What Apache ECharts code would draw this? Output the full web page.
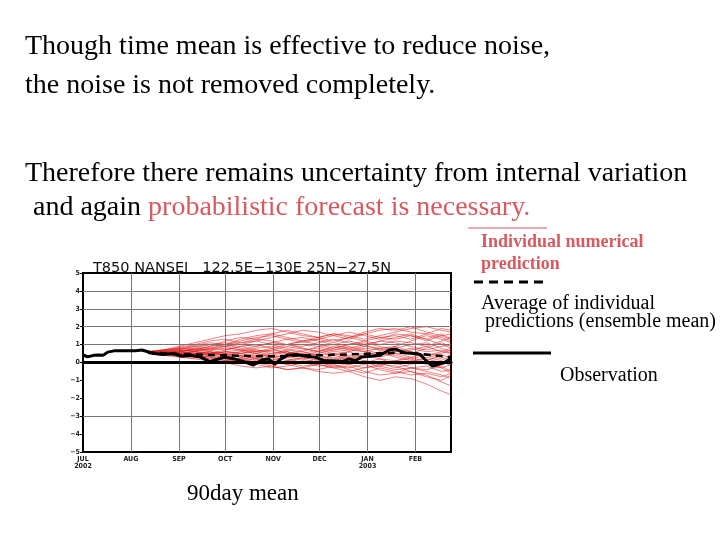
<!DOCTYPE html>
<html><head><meta charset="utf-8">
<script src="https://cdn.jsdelivr.net/npm/echarts@6/dist/echarts.min.js"></script>
<style>html,body{margin:0;padding:0;background:#fff}#c{width:720px;height:540px}</style>
</head><body><div id="c"></div>
<script>
// ---- data ----
const chartTitle = "T850 NANSEI   122.5E\u2212130E 25N\u221227.5N";
const monthStartDays = [0, 31, 62, 92, 123, 153, 184, 215];
const monthLabels = ["JUL\n2002", "AUG", "SEP", "OCT", "NOV", "DEC", "JAN\n2003", "FEB"];
const lastDay = 238;
const yTickLabels = ["\u22125","\u22124","\u22123","\u22122","\u22121","0","1","2","3","4","5"];
const gridYValues = [1, 2, 3, 4, -3];

const memberDays = [42,52,62,72,82,92,102,112,122,132,142,152,162,172,182,192,202,212,222,232,238];
const m1  = [0.6,0.7,0.9,1.1,1.3,1.5,1.6,1.8,1.9,1.7,1.5,1.4,1.6,1.5,1.3,1.5,1.7,1.9,2.0,1.8,1.7];
const m2  = [0.55,0.6,0.7,0.9,1.0,1.1,1.0,1.2,1.4,1.6,1.8,1.7,1.5,1.3,1.6,1.8,1.9,1.7,1.6,1.4,1.2];
const m3  = [0.5,0.4,0.3,0.2,0.1,0.0,-0.2,-0.3,-0.2,-0.4,-0.3,-0.5,-0.6,-0.5,-0.8,-1.0,-0.8,-0.9,-1.2,-1.6,-1.8];
const m4  = [0.6,0.5,0.55,0.6,0.8,0.7,0.9,1.0,0.8,1.0,1.2,1.3,1.1,1.4,1.6,1.4,1.3,1.5,1.3,1.6,1.3];
const m5  = [0.55,0.45,0.35,0.4,0.3,0.2,0.1,0.2,0.0,-0.1,0.1,0.0,-0.2,-0.1,-0.3,-0.2,-0.4,-0.3,-0.5,-0.7,-0.9];
const m6  = [0.6,0.65,0.75,0.8,0.7,0.9,1.1,1.2,1.0,0.8,0.9,1.1,1.3,1.1,0.9,1.2,1.4,1.6,1.3,1.0,0.8];
const m7  = [0.5,0.4,0.45,0.3,0.2,0.3,0.4,0.2,0.1,0.3,0.2,0.0,0.1,0.3,0.1,-0.1,0.0,-0.3,-0.2,-0.5,-0.4];
const m8  = [0.6,0.55,0.5,0.6,0.5,0.6,0.5,0.7,0.6,0.5,0.7,0.8,0.6,0.7,0.9,0.8,0.6,0.7,0.9,0.6,0.5];
const m9  = [0.55,0.6,0.5,0.45,0.6,0.5,0.3,0.4,0.5,0.7,0.6,0.4,0.5,0.3,0.4,0.6,0.3,0.1,0.2,0.0,0.2];
const m10 = [0.5,0.55,0.65,0.7,0.9,1.0,0.8,0.6,0.7,0.9,1.0,0.9,0.7,0.8,1.0,1.2,1.1,0.9,0.7,0.9,1.0];
const m11 = [0.55,0.5,0.4,0.3,0.35,0.2,0.0,-0.1,-0.3,-0.2,0.0,-0.2,-0.1,-0.4,-0.6,-0.3,-0.5,-0.7,-0.6,-0.8,-0.6];
const m12 = [0.6,0.65,0.6,0.7,0.6,0.4,0.5,0.6,0.4,0.3,0.5,0.4,0.2,0.4,0.5,0.3,0.5,0.6,0.4,0.2,0.0];
const m13 = [0.55,0.5,0.6,0.75,0.7,0.8,0.7,0.5,0.7,0.6,0.4,0.5,0.7,0.9,0.7,0.5,0.8,1.0,1.1,0.8,0.6];
const m14 = [0.5,0.45,0.4,0.5,0.4,0.3,0.4,0.2,0.3,0.1,0.2,0.3,0.0,0.2,0.4,0.2,-0.1,0.0,0.3,0.1,-0.2];
const m15 = [0.6,0.7,0.8,0.7,0.9,1.2,1.4,1.3,1.2,1.0,1.2,1.0,0.8,1.0,1.2,1.0,1.2,1.1,0.9,1.2,1.4];
const m16 = [0.55,0.5,0.45,0.3,0.4,0.5,0.3,0.1,0.2,0.0,-0.2,-0.1,-0.3,-0.2,-0.5,-0.7,-0.6,-0.3,-0.4,-0.2,-0.5];
const m17 = [0.6,0.55,0.5,0.6,0.7,0.5,0.6,0.8,0.9,0.7,0.8,0.6,0.9,0.7,0.6,0.8,0.9,0.6,0.4,0.6,0.8];
const m18 = [0.5,0.6,0.7,0.6,0.5,0.7,0.9,0.7,0.5,0.6,0.4,0.6,0.4,0.6,0.8,0.7,0.5,0.3,0.5,0.3,0.1];
const m19 = [0.55,0.45,0.5,0.4,0.2,0.1,0.2,0.0,-0.1,0.1,0.3,0.1,0.3,0.1,0.0,0.2,0.1,0.3,0.0,-0.3,-0.1];
const m20 = [0.6,0.65,0.8,0.95,1.1,1.0,1.2,1.4,1.5,1.3,1.1,1.3,1.5,1.7,1.5,1.3,1.6,1.5,1.2,1.5,1.6];
const m21 = [0.6,0.7,0.85,1.0,1.2,1.3,1.1,1.3,1.6,1.8,1.6,1.4,1.2,1.4,1.7,1.9,1.8,2.0,1.7,1.5,1.3];
const m22 = [0.5,0.45,0.5,0.6,0.45,0.3,0.2,0.0,-0.2,-0.4,-0.3,-0.1,-0.3,-0.5,-0.3,-0.1,-0.2,-0.5,-0.8,-1.0,-0.7];
const m23 = [0.55,0.6,0.7,0.65,0.8,0.9,0.7,0.9,1.1,1.0,0.8,0.6,0.8,1.0,1.1,0.9,0.7,0.5,0.8,1.1,0.9];
const m24 = [0.6,0.5,0.4,0.5,0.6,0.4,0.3,0.5,0.3,0.2,0.0,0.2,0.4,0.2,0.0,-0.2,0.1,0.2,-0.1,-0.3,-0.6];
const m25 = [0.55,0.65,0.6,0.8,1.0,0.9,1.0,0.9,1.1,1.3,1.4,1.2,1.0,1.2,1.0,0.7,0.9,1.2,1.5,1.3,1.1];
const m26 = [0.5,0.55,0.45,0.35,0.5,0.6,0.5,0.3,0.4,0.6,0.4,0.2,0.1,-0.1,0.1,0.0,-0.3,-0.1,0.1,0.4,0.3];
const m27 = [0.6,0.55,0.65,0.5,0.4,0.6,0.7,0.6,0.8,0.5,0.6,0.9,1.0,0.8,0.6,0.4,0.6,0.8,0.6,0.7,0.5];
const m28 = [0.55,0.5,0.35,0.25,0.3,0.1,0.2,0.3,0.1,-0.1,-0.3,-0.4,-0.2,-0.3,-0.1,-0.4,-0.6,-0.5,-0.7,-1.1,-1.3];
const m29 = [0.6,0.7,0.75,0.9,0.8,1.0,1.3,1.5,1.6,1.4,1.2,1.4,1.6,1.4,1.2,1.4,1.5,1.3,1.6,1.9,1.8];
const m30 = [0.5,0.45,0.55,0.45,0.55,0.4,0.6,0.5,0.3,0.4,0.5,0.7,0.5,0.6,0.3,0.5,0.4,0.2,0.4,0.5,0.7];
const members = [m1,m2,m3,m4,m5,m6,m7,m8,m9,m10,m11,m12,m13,m14,m15,m16,m17,m18,m19,m20,m21,m22,m23,m24,m25,m26,m27,m28,m29,m30];

const ensMean = [0.55,0.52,0.48,0.45,0.42,0.4,0.38,0.36,0.35,0.37,0.4,0.4,0.43,0.45,0.48,0.52,0.55,0.52,0.45,0.36,0.3];

const obsDays = [0,3,7,10,13,16,20,28,34,38,42,46,52,58,64,70,76,82,86,92,98,104,110,116,120,124,128,132,138,144,150,156,162,168,172,176,180,186,192,198,202,208,214,218,222,226,230,234,238];
const obsVals = [0.42,0.32,0.4,0.42,0.4,0.58,0.65,0.65,0.66,0.7,0.6,0.5,0.45,0.5,0.35,0.4,0.3,0.05,0.15,0.3,0.2,0.05,-0.15,0.15,0.2,-0.1,0.2,0.4,0.45,0.35,0.3,0.1,0.1,0.05,0.2,0.1,0.3,0.35,0.4,0.7,0.75,0.55,0.5,0.45,0.1,-0.2,-0.1,0.0,0.25];

// ---- chart ----
const days = [];
for (let i = 0; i <= lastDay; i++) days.push(String(i));
const isMonthStart = (idx) => monthStartDays.indexOf(idx) >= 0;
const pair = (xs, ys) => xs.map((x, i) => [x, ys[i]]);

const series = members.map((m) => ({
  type: 'line', data: pair(memberDays, m), symbol: 'none', silent: true,
  lineStyle: { color: 'rgba(225,30,30,0.7)', width: 0.8 }, z: 3
}));
series.push({
  type: 'line', data: pair(memberDays, ensMean), symbol: 'none', silent: true,
  lineStyle: { color: '#000', width: 2.5, type: [7, 5] }, z: 5
});
series.push({
  type: 'line', data: pair(obsDays, obsVals), symbol: 'none', silent: true,
  lineStyle: { color: '#000', width: 3 }, z: 6,
  markLine: {
    silent: true, symbol: 'none', label: { show: false },
    data: gridYValues.map(v => ({ yAxis: v, lineStyle: { color: '#777', width: 1, type: 'solid' } }))
      .concat([{ yAxis: 0, lineStyle: { color: '#000', width: 3, type: 'solid' } }])
  }
});

const serif = '"Liberation Serif"';
const chart = echarts.init(document.getElementById('c'), null, { renderer: 'canvas' });
chart.setOption({
  animation: false,
  backgroundColor: '#fff',
  title: {
    text: chartTitle, left: 88, top: 256,
    textStyle: { fontFamily: 'DejaVu Sans', fontSize: 14.5, fontWeight: 'normal', color: '#111' }
  },
  grid: { left: 83, top: 273, width: 368, height: 179, show: true, borderColor: '#000', borderWidth: 2 },
  xAxis: {
    type: 'category', data: days, boundaryGap: false,
    axisLine: { lineStyle: { color: '#000', width: 3 } },
    axisTick: { show: false },
    axisLabel: {
      interval: (idx) => isMonthStart(idx), margin: 4,
      fontFamily: 'DejaVu Sans Condensed', fontSize: 7, fontWeight: 'bold', color: '#222', lineHeight: 7,
      formatter: (v, idx) => { const k = monthStartDays.indexOf(Number(v)); return k >= 0 ? monthLabels[k] : ''; }
    },
    splitLine: { show: true, interval: (idx) => isMonthStart(idx) && idx > 0, lineStyle: { color: '#777', width: 1 } }
  },
  yAxis: {
    type: 'value', min: -5, max: 5, interval: 1,
    axisLine: { show: true, lineStyle: { color: '#000', width: 2 } },
    axisTick: { show: true, length: 3, lineStyle: { color: '#000' } },
    axisLabel: {
      margin: 3, fontFamily: 'DejaVu Sans Condensed', fontSize: 7, fontWeight: 'bold', color: '#222',
      formatter: (v) => yTickLabels[Math.round(v) + 5]
    },
    splitLine: { show: false }
  },
  graphic: [
    { type: 'text', left: 25, top: 33, style: { text: 'Though time mean is effective to reduce noise,', font: '28px ' + serif, fill: '#000' } },
    { type: 'text', left: 25, top: 72, style: { text: 'the noise is not removed completely.', font: '28px ' + serif, fill: '#000' } },
    { type: 'text', left: 25, top: 160, style: { text: 'Therefore there remains uncertainty from internal variation', font: '28px ' + serif, fill: '#000' } },
    { type: 'text', left: 33, top: 194, style: {
        text: '{a|and again }{b|probabilistic forecast is necessary.}', font: '28px ' + serif,
        rich: { a: { fill: '#000', font: '28px ' + serif }, b: { fill: '#d65a5f', font: '28px ' + serif } } } },
    { type: 'line', shape: { x1: 468, y1: 228, x2: 547, y2: 228 }, style: { stroke: '#d65a5f', lineWidth: 1 } },
    { type: 'text', left: 481, top: 233, style: { text: 'Individual numerical', font: 'bold 18px ' + serif, fill: '#d65a5f' } },
    { type: 'text', left: 481, top: 255, style: { text: 'prediction', font: 'bold 18px ' + serif, fill: '#d65a5f' } },
    { type: 'line', shape: { x1: 474, y1: 282, x2: 545, y2: 282 }, style: { stroke: '#000', lineWidth: 3, lineDash: [9, 6] } },
    { type: 'text', left: 481, top: 294, style: { text: 'Average of individual', font: '20px ' + serif, fill: '#000' } },
    { type: 'text', left: 485, top: 312, style: { text: 'predictions (ensemble mean)', font: '20px ' + serif, fill: '#000' } },
    { type: 'line', shape: { x1: 473, y1: 353, x2: 551, y2: 353 }, style: { stroke: '#000', lineWidth: 3 } },
    { type: 'text', left: 560, top: 366, style: { text: 'Observation', font: '20px ' + serif, fill: '#000' } },
    { type: 'text', left: 187, top: 482, style: { text: '90day mean', font: '23px ' + serif, fill: '#000' } }
  ],
  series: series
});
</script></body></html>
